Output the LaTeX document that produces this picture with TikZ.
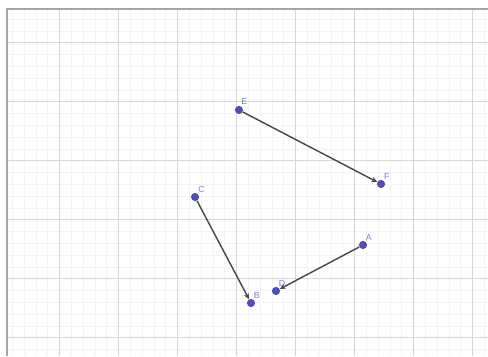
\documentclass[tikz,border=0pt]{standalone}
\usepackage{fontspec}
\setmainfont{Liberation Sans}
\usetikzlibrary{arrows.meta}
\definecolor{gridMajor}{RGB}{215,215,215}
\definecolor{gridMinor}{RGB}{243,243,243}
\definecolor{frameGray}{RGB}{165,165,165}
\definecolor{pointBlue}{RGB}{80,80,170}
\definecolor{labelBlue}{RGB}{125,125,215}
\definecolor{vecGray}{RGB}{70,70,70}

\begin{document}
\begin{tikzpicture}[
  x=0.03cm, y=-0.03cm,
  pt/.style={circle, fill=pointBlue, minimum size=7pt, inner sep=0pt},
  ptlabel/.style={font=\fontsize{7.5}{8}\selectfont, text=labelBlue, inner sep=0pt},
  vec/.style={-{Stealth[length=5pt,width=4.5pt]}, line width=1.2pt, draw=vecGray}
]
\useasboundingbox (0,0) rectangle (488,356);

% Grid
\begin{scope}
  \clip (7,9) rectangle (488,356);
  \foreach \i in {1,...,41} {
    \draw[gridMinor, line width=0.5pt] ({0.5+11.8*\i},9) -- ({0.5+11.8*\i},356);
  }
  \foreach \i in {3,...,31} {
    \draw[gridMinor, line width=0.5pt] (7,{-16.3+11.8*\i}) -- (488,{-16.3+11.8*\i});
  }
  \foreach \k in {1,...,8} {
    \draw[gridMajor, line width=0.8pt] ({0.5+59*\k},9) -- ({0.5+59*\k},356);
  }
  \foreach \k in {0,...,5} {
    \draw[gridMajor, line width=0.8pt] (7,{42.7+59*\k}) -- (488,{42.7+59*\k});
  }
\end{scope}
\draw[frameGray, line width=1.6pt] (7,356) -- (7,9) -- (488,9);

% Points
\node[pt, label={[ptlabel, label distance=1pt]60:A}] (A) at (363,245) {};
\node[pt, label={[ptlabel, label distance=1pt]60:B}] (B) at (251,303) {};
\node[pt, label={[ptlabel, label distance=1pt]55:C}] (C) at (195,197) {};
\node[pt, label={[ptlabel, label distance=1pt]60:D}] (D) at (276,291) {};
\node[pt, label={[ptlabel, label distance=1pt]68:E}] (E) at (239,110) {};
\node[pt, label={[ptlabel, label distance=1pt]57:F}] (F) at (381,184) {};

% Vectors
\draw[vec] (E) -- (F);
\draw[vec] (A) -- (D);
\draw[vec] (C) -- (B);

\end{tikzpicture}
\end{document}
